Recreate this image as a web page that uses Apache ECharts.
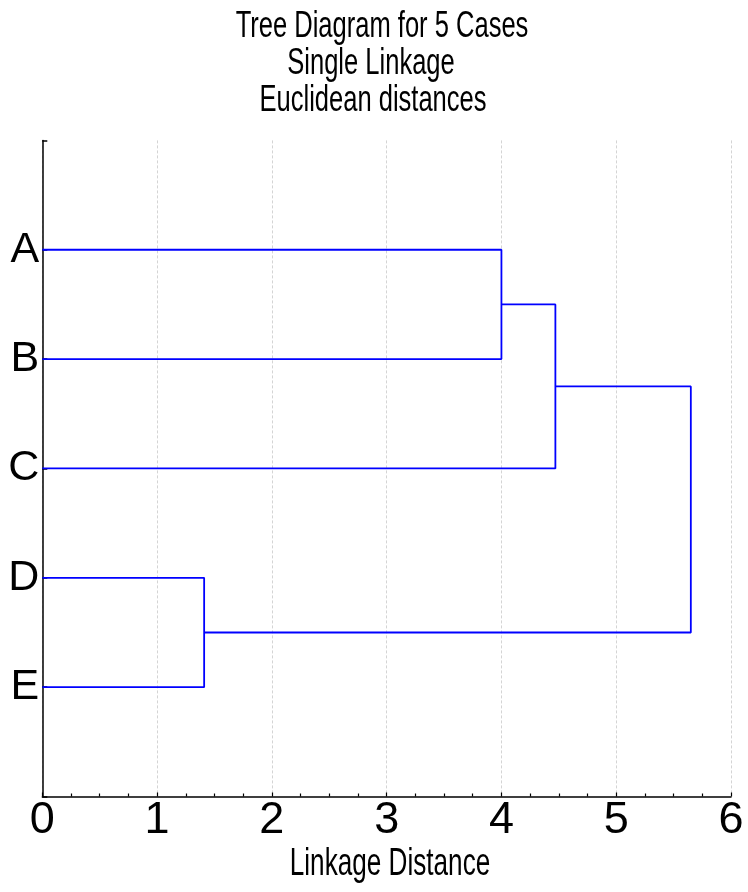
<!DOCTYPE html>
<html>
<head>
<meta charset="utf-8">
<script src="https://cdn.jsdelivr.net/npm/echarts@6/dist/echarts.min.js"></script>
<style>html,body{margin:0;padding:0;background:#fff;}#c{width:748px;height:892px;}</style>
</head>
<body>
<div id="c"></div>
<script>
// ---- data ----
const titleLines = ['Tree Diagram for 5 Cases', 'Single Linkage', 'Euclidean distances'];
const axisTitle = 'Linkage Distance';
const leaves = ['A', 'B', 'C', 'D', 'E'];
const mergeLeft = ['A', 'AB', 'D', 'ABC'];
const mergeRight = ['B', 'C', 'E', 'DE'];
const mergeName = ['AB', 'ABC', 'DE', 'ABCDE'];
const mergeDist = [4.0, 4.47, 1.41, 5.65];
const xTicks = [0, 1, 2, 3, 4, 5, 6];

// ---- build dendrogram paths ----
const nodes = {};
leaves.forEach((n, i) => { nodes[n] = { x: 0, y: leaves.length - i }; });
const series = [];
mergeName.forEach((name, i) => {
  const L = nodes[mergeLeft[i]], R = nodes[mergeRight[i]], d = mergeDist[i];
  nodes[name] = { x: d, y: (L.y + R.y) / 2 };
  series.push({
    type: 'line',
    data: [[L.x, L.y], [d, L.y], [d, R.y], [R.x, R.y]],
    symbol: 'none',
    silent: true,
    lineStyle: { color: '#0000ff', width: 1.8 },
    animation: false
  });
});
const yLabels = {};
leaves.forEach((n, i) => { yLabels[leaves.length - i] = n; });

const FONT = "'Liberation Sans', Arial, Helvetica, sans-serif";
const chart = echarts.init(document.getElementById('c'), null, { renderer: 'canvas' });
const titleY = [27, 64, 101];
const titleX = [382, 371, 373];
const graphics = titleLines.map((t, i) => ({
  type: 'text', x: titleX[i], y: titleY[i], scaleX: 0.69,
  style: { text: t, fontSize: 37, fontFamily: FONT, fill: '#000', align: 'center', verticalAlign: 'middle' }
}));
graphics.push({
  type: 'text', x: 390, y: 864, scaleX: 0.67,
  style: { text: axisTitle, fontSize: 39, fontFamily: FONT, fill: '#000', align: 'center', verticalAlign: 'middle' }
});

chart.setOption({
  backgroundColor: '#fff',
  animation: false,
  grid: { left: 42.3, right: 17, top: 140.4, bottom: 95.5, containLabel: false },
  xAxis: {
    type: 'value', min: xTicks[0], max: xTicks[xTicks.length - 1], interval: 1,
    axisLine: { show: true, lineStyle: { color: '#000', width: 1.5 } },
    axisTick: { show: true, inside: true, length: 4, lineStyle: { color: '#000', width: 1.2 } },
    minorTick: { show: true, splitNumber: 4, length: 3, lineStyle: { color: '#000', width: 1.2 } },
    axisLabel: { fontSize: 45, fontFamily: FONT, color: '#000', margin: 2 },
    splitLine: { show: true, lineStyle: { color: '#d4d4d4', width: 1, type: [3, 2] } }
  },
  yAxis: {
    type: 'value', min: 0, max: leaves.length + 1, interval: 1,
    axisLine: { show: true, lineStyle: { color: '#000', width: 1.5 } },
    axisTick: { show: true, inside: true, length: 5, lineStyle: { color: '#000', width: 1.5 } },
    axisLabel: { fontSize: 43, fontFamily: FONT, color: '#000', margin: 3,
      formatter: v => yLabels[v] || '' },
    splitLine: { show: false }
  },
  series: series,
  graphic: graphics
});
</script>
</body>
</html>
